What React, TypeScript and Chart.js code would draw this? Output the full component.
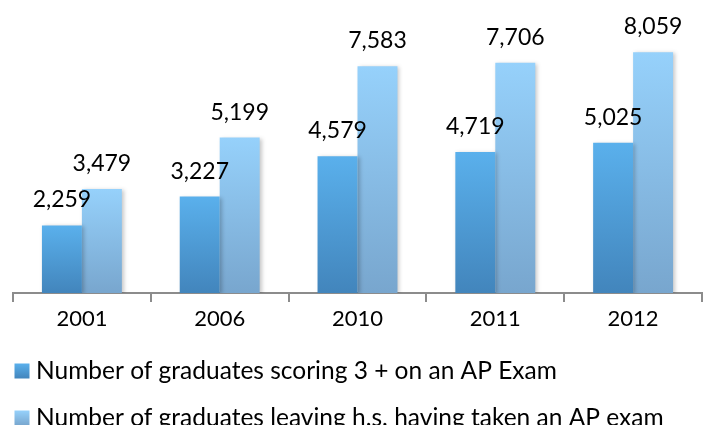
import React, { useEffect, useRef } from "react";
import { Chart, registerables } from "chart.js";

Chart.register(...registerables);

const years = ["2001", "2006", "2010", "2011", "2012"];
const scoring3Plus = [2259, 3227, 4579, 4719, 5025];
const tookAPExam = [3479, 5199, 7583, 7706, 8059];
const seriesNames = [
  "Number of graduates scoring 3 + on an AP Exam",
  "Number of graduates leaving h.s. having taken an AP exam",
];
const gradientStops = [
  ["#5AB0EC", "#4285BC"],
  ["#96D1FB", "#78A6CE"],
];

const FONT = "Lato, 'Open Sans', sans-serif";

function barGradient(ctx: any, dsIndex: number) {
  const chart = ctx.chart;
  const area = chart.chartArea;
  if (!area) return gradientStops[dsIndex][0];
  const yScale = chart.scales.y;
  const v = ctx.raw as number;
  const top = yScale.getPixelForValue(v);
  const bottom = yScale.getPixelForValue(0);
  const g = chart.ctx.createLinearGradient(0, top, 0, bottom);
  g.addColorStop(0, gradientStops[dsIndex][0]);
  g.addColorStop(1, gradientStops[dsIndex][1]);
  return g;
}

const valueLabels = {
  id: "valueLabels",
  afterDatasetsDraw(chart: any) {
    const ctx = chart.ctx;
    ctx.save();
    ctx.font = `23px ${FONT}`;
    ctx.fillStyle = "#000";
    ctx.textAlign = "center";
    ctx.textBaseline = "alphabetic";
    chart.data.datasets.forEach((ds: any, i: number) => {
      const meta = chart.getDatasetMeta(i);
      meta.data.forEach((bar: any, j: number) => {
        const v = ds.data[j] as number;
        ctx.fillText(v.toLocaleString("en-US"), bar.x, bar.y - 18);
      });
    });
    ctx.restore();
  },
};

const barShadow = {
  id: "barShadow",
  beforeDatasetsDraw(chart: any) {
    const ctx = chart.ctx;
    ctx.save();
    ctx.shadowColor = "rgba(0,0,0,0.22)";
    ctx.shadowBlur = 4;
    ctx.shadowOffsetX = 2;
    ctx.shadowOffsetY = 1;
  },
  afterDatasetsDraw(chart: any) {
    chart.ctx.restore();
  },
};

const customLegend = {
  id: "customLegend",
  afterDraw(chart: any) {
    const ctx = chart.ctx;
    ctx.save();
    ctx.font = `24.5px ${FONT}`;
    ctx.textBaseline = "alphabetic";
    ctx.textAlign = "left";
    const baselines = [378.5, 425.5];
    seriesNames.forEach((name, i) => {
      const base = baselines[i];
      const bx = 14.5;
      const size = 15;
      const top = base - size;
      const g = ctx.createLinearGradient(0, top, 0, top + size);
      g.addColorStop(0, gradientStops[i][0]);
      g.addColorStop(1, gradientStops[i][1]);
      ctx.fillStyle = g;
      ctx.fillRect(bx, top, size, size);
      ctx.fillStyle = "#000";
      ctx.fillText(name, 36, base);
    });
    ctx.restore();
  },
};

export default function App() {
  const canvasRef = useRef<HTMLCanvasElement | null>(null);

  useEffect(() => {
    document.body.style.margin = "0";
    const canvas = canvasRef.current;
    if (!canvas) return;
    const chart = new Chart(canvas, {
      type: "bar",
      data: {
        labels: years,
        datasets: [
          {
            label: seriesNames[0],
            data: scoring3Plus,
            backgroundColor: (c: any) => barGradient(c, 0),
            borderWidth: 0,
          },
          {
            label: seriesNames[1],
            data: tookAPExam,
            backgroundColor: (c: any) => barGradient(c, 1),
            borderWidth: 0,
          },
        ],
      },
      options: {
        animation: false,
        responsive: false,
        maintainAspectRatio: false,
        devicePixelRatio: 1,
        layout: { padding: { left: 13, right: 9, top: 24, bottom: 82 } },
        datasets: {
          bar: { barPercentage: 1, categoryPercentage: 0.58 },
        },
        plugins: {
          legend: { display: false },
          tooltip: { enabled: false },
          title: { display: false },
        },
        scales: {
          x: {
            offset: true,
            grid: {
              offset: true,
              drawOnChartArea: false,
              drawTicks: true,
              tickLength: 9,
              color: "#8C8C8C",
              lineWidth: 2,
            },
            border: { display: true, color: "#8C8C8C", width: 2 },
            ticks: {
              color: "#000",
              font: { family: FONT, size: 22 },
              padding: 4,
              maxRotation: 0,
            },
            afterFit: (scale: any) => {
              scale.height = 50;
            },
          },
          y: {
            display: false,
            min: 0,
            max: 9000,
          },
        },
      },
      plugins: [barShadow, valueLabels, customLegend],
    });
    return () => chart.destroy();
  }, []);

  return (
    <div style={{ width: 711, height: 425 }}>
      <canvas ref={canvasRef} width={711} height={425} style={{ display: "block" }} />
    </div>
  );
}
